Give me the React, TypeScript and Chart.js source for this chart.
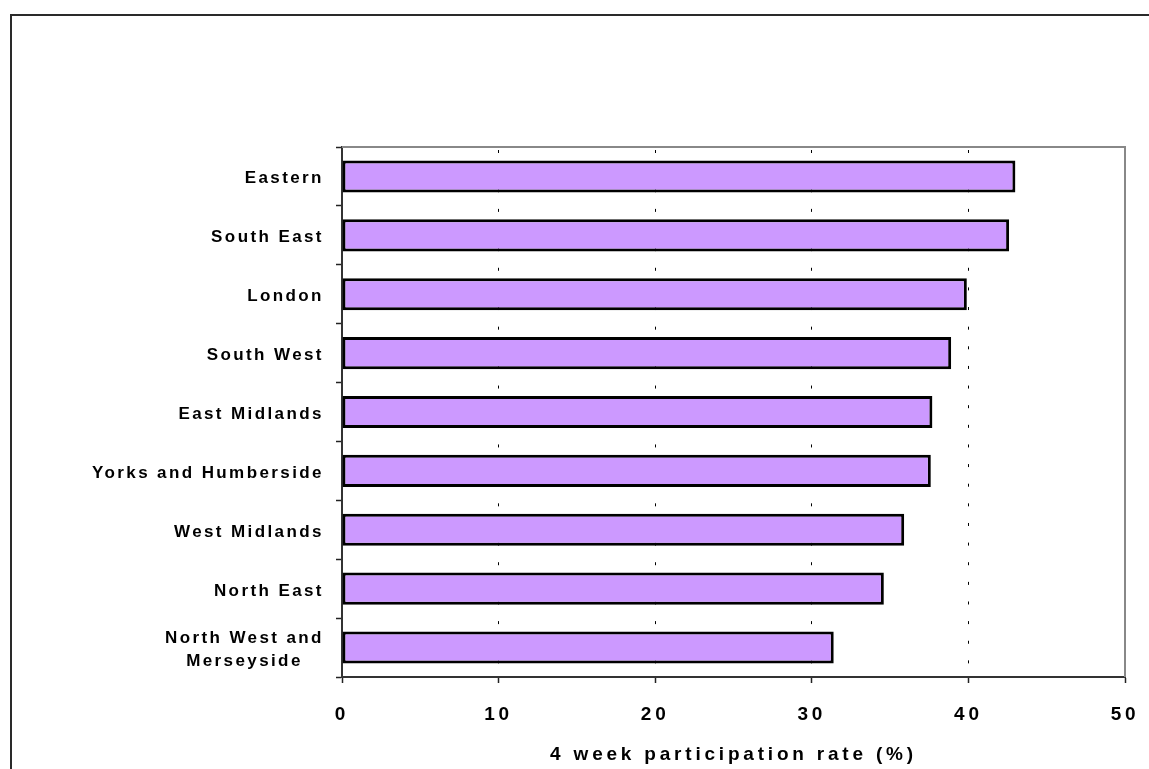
import React, { useEffect, useRef } from "react";
import { Chart, registerables } from "chart.js";

Chart.register(...registerables);

// Regions, top to bottom
const regions: (string | string[])[] = [
  "Eastern",
  "South East",
  "London",
  "South West",
  "East Midlands",
  "Yorks and Humberside",
  "West Midlands",
  "North East",
  ["North West and", "Merseyside"],
];

// 4 week participation rate (%)
const participation: number[] = [43.0, 42.6, 39.9, 38.9, 37.7, 37.6, 35.9, 34.6, 31.4];

const xTicks: number[] = [0, 10, 20, 30, 40, 50];
const xTitle = "4 week participation rate (%)";

const FONT = "'Liberation Sans', Arial, Helvetica, sans-serif";

// Frame around the whole chart, plot-area border, spaced category labels
const decorations = {
  id: "decorations",
  beforeDraw(chart: any) {
    const ctx = chart.ctx;
    ctx.save();
    ctx.fillStyle = "#2a2a2a";
    ctx.fillRect(10, 14, chart.width - 10, 2);
    ctx.fillRect(10, 14, 2, chart.height - 14);
    ctx.restore();
    // letter spacing for the x-axis texts drawn by the scale
    ctx.letterSpacing = "3.8px";
  },
  afterDatasetsDraw(chart: any) {
    const ctx = chart.ctx;
    const { top, right, bottom, left } = chart.chartArea;
    ctx.save();
    ctx.strokeStyle = "#888888";
    ctx.lineWidth = 2;
    ctx.beginPath();
    ctx.moveTo(left, top);
    ctx.lineTo(right, top);
    ctx.lineTo(right, bottom);
    ctx.stroke();
    ctx.restore();
  },
  afterDraw(chart: any) {
    const ctx = chart.ctx;
    const yScale = chart.scales.y;
    ctx.save();
    ctx.letterSpacing = "2.4px";
    ctx.font = `bold 17px ${FONT}`;
    ctx.fillStyle = "#000";
    ctx.textAlign = "center";
    ctx.textBaseline = "middle";
    const rightEdge = yScale.right - 20.5;
    const lineH = 23.3;
    regions.forEach((label, i) => {
      const lines = Array.isArray(label) ? label : [label];
      const widths = lines.map((l) => ctx.measureText(l).width);
      const w = Math.max(...widths);
      const cx = rightEdge + 2.4 - w / 2;
      const cy = yScale.getPixelForValue(i) + 2.3;
      lines.forEach((l, k) => {
        const y = cy + (k - (lines.length - 1) / 2) * lineH;
        ctx.fillText(l, cx, y);
      });
    });
    ctx.restore();
    ctx.letterSpacing = "0px";
  },
};

export default function App() {
  const canvasRef = useRef<HTMLCanvasElement | null>(null);

  useEffect(() => {
    if (!canvasRef.current) return;
    const chart = new Chart(canvasRef.current, {
      type: "bar",
      data: {
        labels: regions as any,
        datasets: [
          {
            data: participation,
            backgroundColor: "#CC99FF",
            borderColor: "#000000",
            borderWidth: 3,
            borderSkipped: false,
            categoryPercentage: 1,
            barPercentage: 0.545,
          },
        ],
      },
      options: {
        indexAxis: "y",
        responsive: false,
        animation: false,
        devicePixelRatio: 1,
        layout: { padding: { left: 0, top: 147, right: 24, bottom: 0 } },
        plugins: {
          legend: { display: false },
          tooltip: { enabled: false },
          title: { display: false },
        },
        scales: {
          x: {
            type: "linear",
            min: xTicks[0],
            max: xTicks[xTicks.length - 1],
            afterBuildTicks: (scale: any) => {
              scale.ticks = xTicks.map((v) => ({ value: v }));
            },
            afterFit: (scale: any) => {
              scale.height = 92;
              scale.paddingLeft = 0;
              scale.paddingRight = 0;
            },
            ticks: {
              color: "#000",
              padding: 20,
              font: { family: FONT, size: 19, weight: "bold" },
              maxRotation: 0,
              autoSkip: false,
            },
            grid: {
              color: (c: any) =>
                c.tick && (c.tick.value === xTicks[0] || c.tick.value === xTicks[xTicks.length - 1])
                  ? "rgba(0,0,0,0)"
                  : "#000",
              lineWidth: 1,
              tickColor: "#222",
              tickWidth: 1.5,
              tickLength: 6,
              drawOnChartArea: true,
            },
            border: {
              display: true,
              color: "#333",
              width: 2,
              dash: [3, 16.63],
              dashOffset: -3,
            },
            title: {
              display: true,
              text: xTitle,
              color: "#000",
              font: { family: FONT, size: 19, weight: "bold" },
              padding: { top: 0, bottom: 3 },
            },
          },
          y: {
            type: "category",
            offset: true,
            afterFit: (scale: any) => {
              scale.width = 342;
            },
            ticks: { display: false },
            grid: {
              offset: true,
              drawOnChartArea: false,
              drawTicks: true,
              tickLength: 6,
              tickColor: "#222",
              tickWidth: 1.5,
            },
            border: { display: true, color: "#333", width: 2 },
          },
        },
      },
      plugins: [decorations],
    } as any);
    return () => chart.destroy();
  }, []);

  return (
    <div style={{ position: "absolute", left: 0, top: 0, width: 1149, height: 769, background: "#fff" }}>
      <canvas ref={canvasRef} width={1149} height={769} style={{ display: "block" }} />
    </div>
  );
}
